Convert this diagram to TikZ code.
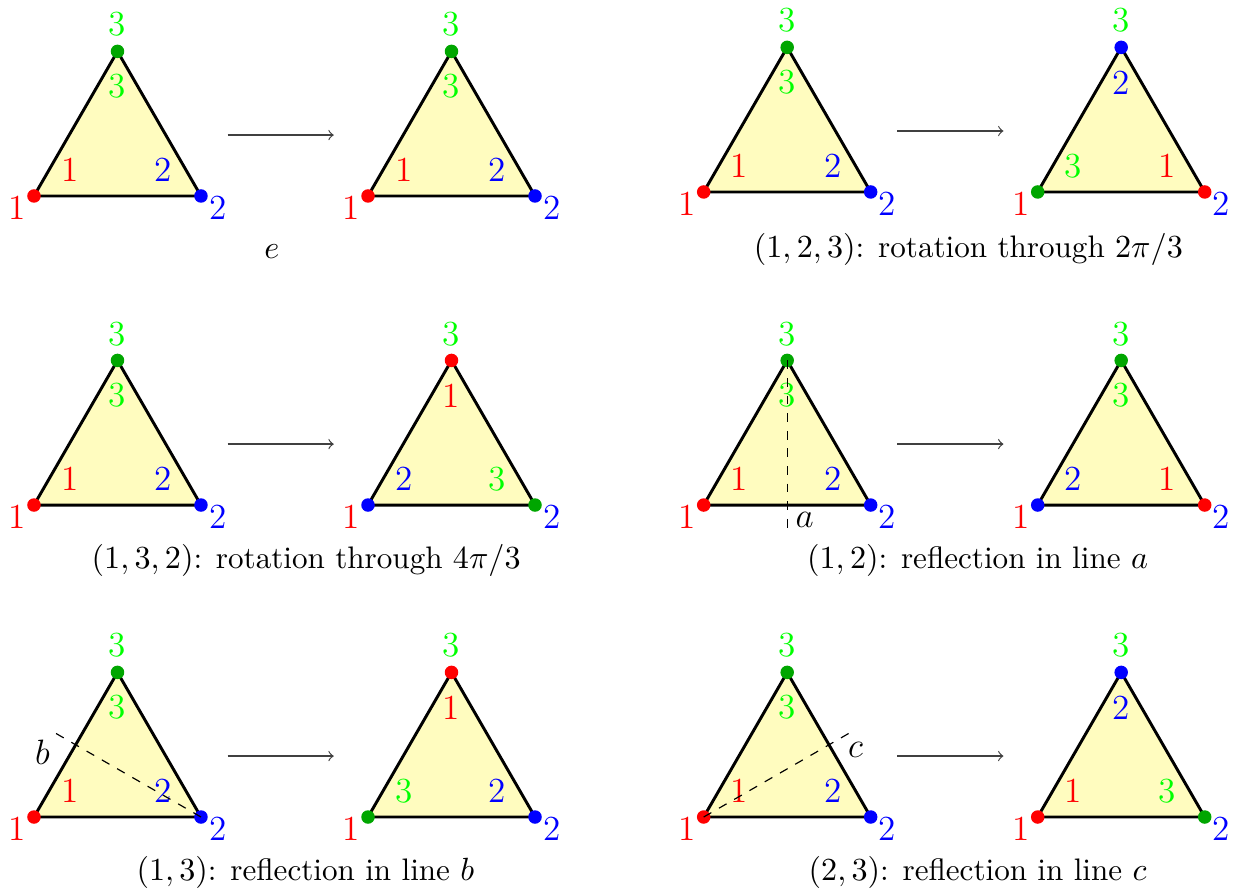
\documentclass[tikz,border=0pt]{standalone}
\usepackage{tikz}
\usetikzlibrary{arrows.meta}
\colorlet{lab1}{red}
\colorlet{lab2}{blue}
\colorlet{lab3}{green}
\colorlet{pt1}{red}
\colorlet{pt2}{blue}
\colorlet{pt3}{green!65!black}

\begin{document}
\begin{tikzpicture}[every node/.style={font=\large, inner sep=1pt},
    tri/.style={draw, line width=1pt, fill=yellow!25, line join=round},
    dot/.style={circle, inner sep=0pt, minimum size=4.6pt},
    axis/.style={dashed, thin},
    caption/.style={font=\fontsize{10.6}{13}\selectfont}]
    \useasboundingbox (-0.407,2.347) rectangle (14.395,-8.347);
    % one triangle per entry: inner labels at bottom left / bottom right / top
    \foreach \n/\x/\y/\la/\lb/\lc in {0/0/0/1/2/3, 1/4/0/1/2/3,
        2/8.02/0.048/1/2/3, 3/12.02/0.048/3/1/2,
        4/0/-3.701/1/2/3, 5/4/-3.701/2/3/1,
        6/8.02/-3.701/1/2/3, 7/12.02/-3.701/2/1/3,
        8/0/-7.437/1/2/3, 9/4/-7.437/3/2/1,
        10/8.02/-7.437/1/2/3, 11/12.02/-7.437/1/3/2} {
        \coordinate (p\n-1) at (\x,\y);
        \coordinate (p\n-2) at (\x+2,\y);
        \coordinate (p\n-3) at (\x+1,\y+1.732);
        \coordinate (out\n) at (\x+2.32,\y+0.73);
        \coordinate (in\n) at (\x-0.41,\y+0.73);
        \draw[tri] (p\n-1) -- (p\n-2) -- (p\n-3) -- cycle;
        \node[text=lab1] (o\n-1) at ([shift={(-0.2,-0.14)}]p\n-1) {1};
        \node[text=lab2] (o\n-2) at ([shift={(0.2,-0.14)}]p\n-2) {2};
        \node[text=lab3] (o\n-3) at ([shift={(0,0.32)}]p\n-3) {3};
        \node[text=lab\la] (i\n-1) at ([shift={(0.43,0.31)}]p\n-1) {\la};
        \node[text=lab\lb] (i\n-2) at ([shift={(-0.455,0.31)}]p\n-2) {\lb};
        \node[text=lab\lc] (i\n-3) at ([shift={(0,-0.42)}]p\n-3) {\lc};
        \node[dot, fill=pt\la] (d\n-1) at (p\n-1) {};
        \node[dot, fill=pt\lb] (d\n-2) at (p\n-2) {};
        \node[dot, fill=pt\lc] (d\n-3) at (p\n-3) {};
    }
    \foreach \a/\b in {0/1, 2/3, 4/5, 6/7, 8/9, 10/11} {
        \draw[-to, thin, black!75] (out\a) -- (in\b);
    }

    % the mirror lines
    \coordinate (ea) at ([shift={(1,-0.34)}]p6-1);
    \coordinate (eb) at ([shift={(0.23,1.02)}]p8-1);
    \coordinate (ec) at ([shift={(1.77,1.02)}]p10-1);
    \draw[axis] (p6-3) -- (ea);
    \draw[axis] (p8-2) -- (eb);
    \draw[axis] (p10-1) -- (ec);
    \node (la) at ([shift={(1.21,-0.18)}]p6-1) {$a$};
    \node (lb) at ([shift={(0.1,0.78)}]p8-1) {$b$};
    \node (lc) at ([shift={(1.82,0.8)}]p10-1) {$c$};

    \node[caption] (cap0) at (2.85,-0.67) {$e$};
    \node[caption] (cap1) at (11.19,-0.642) {$(1,2,3)$: rotation through $2\pi/3$};
    \node[caption] (cap2) at (3.26,-4.361) {$(1,3,2)$: rotation through $4\pi/3$};
    \node[caption] (cap3) at (11.30,-4.361) {$(1,2)$: reflection in line $a$};
    \node[caption] (cap4) at (3.25,-8.107) {$(1,3)$: reflection in line $b$};
    \node[caption] (cap5) at (11.30,-8.107) {$(2,3)$: reflection in line $c$};
\end{tikzpicture}
\end{document}
